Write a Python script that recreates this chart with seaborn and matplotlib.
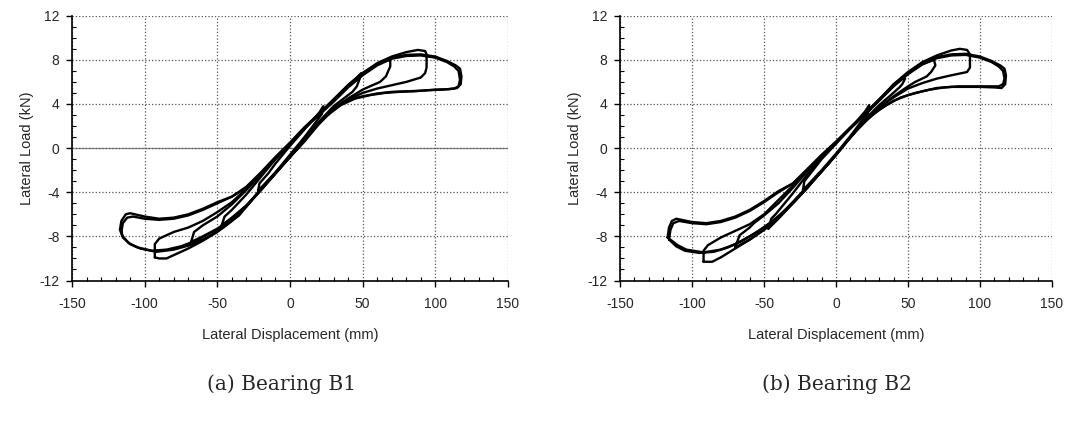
import numpy as np
import pandas as pd
import seaborn as sns
import matplotlib.pyplot as plt
from matplotlib.ticker import MultipleLocator

# ---- Bearing B1 loops (displacement mm, load kN) ----
b1_outer_x = [-117, -116, -113, -110, -100, -90, -80, -70, -60, -50, -40, -30, -20, -10, 0, 10, 20, 30, 40, 50,
              60, 70, 80, 90, 100, 108, 114, 117, 118, 117.5, 115, 110, 100, 90, 80, 70, 60, 50, 40, 30, 20, 10,
              0, -10, -20, -30, -35, -40, -46, -57, -69, -80, -92, -103, -110, -115, -117]
b1_outer_y = [-7.4, -6.6, -6.0, -5.9, -6.2, -6.4, -6.3, -6.0, -5.5, -4.9, -4.4, -3.5, -2.2, -0.8, 0.5, 1.9, 3.1, 4.3, 5.6, 6.7,
              7.6, 8.2, 8.45, 8.5, 8.3, 7.9, 7.5, 7.2, 6.5, 5.8, 5.45, 5.35, 5.3, 5.2, 5.15, 5.1, 4.95, 4.7, 4.35, 3.5, 2.2, 0.6,
              -0.8, -2.2, -3.7, -5.3, -6.1, -6.6, -7.2, -8.1, -8.8, -9.2, -9.4, -9.1, -8.7, -8.1, -7.4]

b1_outer2_x = [-116, -115, -112, -108, -100, -90, -80, -70, -60, -50, -40, -30, -20, -10, 0, 10, 20, 30, 40, 50,
               60, 70, 80, 90, 100, 108, 113, 116, 117, 116, 113, 105, 95, 85, 75, 65, 55, 45, 35, 25, 15, 5,
               -5, -15, -25, -35, -45, -55, -65, -75, -85, -95, -105, -111, -115, -116]
b1_outer2_y = [-7.6, -6.8, -6.3, -6.2, -6.4, -6.5, -6.4, -6.1, -5.6, -5.0, -4.4, -3.6, -2.3, -0.9, 0.4, 1.8, 3.0, 4.2, 5.5, 6.6,
               7.5, 8.1, 8.35, 8.4, 8.2, 7.8, 7.4, 7.0, 6.2, 5.6, 5.4, 5.3, 5.25, 5.15, 5.1, 5.0, 4.8, 4.5, 3.9, 2.9, 1.5, -0.1,
               -1.5, -3.0, -4.5, -6.0, -7.0, -7.7, -8.4, -8.9, -9.2, -9.3, -9.0, -8.6, -8.0, -7.6]

b1_a93_x = [-93, -93, -90, -80, -70, -60, -50, -40, -30, -20, -10, 0, 10, 20, 30, 40, 50, 60, 70, 80, 88, 93, 94, 94,
            93, 90, 80, 70, 60, 50, 40, 30, 20, 10, 0, -10, -20, -30, -40, -50, -60, -70, -80, -85, -90, -93]
b1_a93_y = [-9.9, -8.7, -8.2, -7.6, -7.2, -6.6, -5.8, -4.9, -3.7, -2.3, -0.9, 0.4, 1.8, 3.1, 4.4, 5.7, 6.8, 7.7, 8.3, 8.7, 8.9, 8.8, 8.5, 7.3,
            6.8, 6.4, 6.0, 5.7, 5.4, 5.0, 4.4, 3.6, 2.3, 0.7, -0.8, -2.3, -3.8, -5.3, -6.6, -7.6, -8.4, -9.1, -9.7, -10.0, -10.0, -9.9]

b1_a70_x = [-68, -66, -60, -50, -40, -30, -20, -10, 0, 10, 20, 30, 40, 50, 60, 67, 69, 69, 66, 62, 55, 50, 40, 30, 20,
            10, 0, -10, -20, -30, -40, -50, -60, -68]
b1_a70_y = [-8.5, -7.6, -7.0, -6.2, -5.1, -3.8, -2.4, -1.0, 0.4, 1.8, 3.1, 4.4, 5.7, 6.8, 7.6, 8.0, 7.9, 7.4, 6.5, 6.0, 5.6, 5.3, 4.5, 3.6, 2.3,
            0.7, -0.8, -2.3, -3.8, -5.2, -6.4, -7.3, -8.0, -8.5]

b1_a47_x = [-47, -45, -40, -30, -20, -10, 0, 10, 20, 30, 40, 46, 49, 48, 46, 43, 38, 30, 20, 10, 0, -10, -20, -30, -40, -47]
b1_a47_y = [-7.0, -6.2, -5.6, -4.2, -2.6, -1.0, 0.4, 1.8, 3.1, 4.4, 5.7, 6.4, 6.8, 6.3, 5.6, 5.1, 4.6, 3.8, 2.4, 0.8, -0.8, -2.3, -3.8, -5.2, -6.3, -7.0]

b1_a23_x = [-22, -21, -15, -10, 0, 10, 20, 23, 22, 18, 10, 0, -10, -20, -22]
b1_a23_y = [-3.9, -3.2, -2.3, -1.4, 0.2, 1.7, 3.2, 3.8, 3.1, 2.4, 1.0, -0.6, -2.2, -3.6, -3.9]

# ---- Bearing B2 loops ----
b2_outer_x = [-117, -116, -114, -111, -100, -90, -80, -70, -60, -50, -40, -30, -20, -10, 0, 10, 20, 30, 40, 50,
              60, 70, 80, 90, 100, 108, 114, 117, 118, 117.5, 115, 110, 100, 90, 80, 70, 60, 50, 40, 30, 20, 10,
              0, -10, -20, -30, -40, -50, -60, -70, -80, -92, -104, -110, -114, -117]
b2_outer_y = [-8.1, -7.2, -6.6, -6.4, -6.7, -6.8, -6.6, -6.2, -5.6, -4.8, -3.9, -3.2, -1.9, -0.6, 0.6, 1.9, 3.1, 4.4, 5.7, 6.8,
              7.7, 8.25, 8.5, 8.55, 8.3, 7.9, 7.5, 7.2, 6.6, 5.8, 5.45, 5.5, 5.55, 5.55, 5.55, 5.45, 5.15, 4.8, 4.3, 3.5, 2.4, 1.0,
              -0.6, -2.1, -3.5, -4.9, -6.2, -7.2, -8.0, -8.7, -9.2, -9.45, -9.2, -8.8, -8.4, -8.1]

b2_outer2_x = [-116, -115, -113, -109, -100, -90, -80, -70, -60, -50, -40, -30, -20, -10, 0, 10, 20, 30, 40, 50,
               60, 70, 80, 90, 100, 108, 113, 116, 117, 116, 113, 105, 95, 85, 75, 65, 55, 45, 35, 25, 15, 5,
               -5, -15, -25, -35, -45, -55, -65, -75, -85, -95, -105, -111, -115, -116]
b2_outer2_y = [-8.3, -7.4, -6.8, -6.6, -6.8, -6.9, -6.7, -6.3, -5.7, -4.9, -4.0, -3.2, -2.0, -0.7, 0.5, 1.8, 3.0, 4.3, 5.6, 6.7,
               7.6, 8.15, 8.4, 8.45, 8.2, 7.8, 7.4, 7.0, 6.3, 5.8, 5.6, 5.6, 5.6, 5.6, 5.5, 5.3, 5.0, 4.6, 3.9, 3.0, 1.7, 0.2,
               -1.4, -2.8, -4.2, -5.6, -6.7, -7.6, -8.4, -9.0, -9.4, -9.5, -9.3, -8.9, -8.4, -8.3]

b2_a93_x = [-92, -92, -89, -80, -70, -60, -50, -40, -30, -20, -10, 0, 10, 20, 30, 40, 50, 60, 70, 80, 86, 91, 93, 93,
            91, 80, 70, 60, 50, 40, 30, 20, 10, 0, -10, -20, -30, -40, -50, -60, -70, -80, -86, -92]
b2_a93_y = [-10.3, -9.3, -8.8, -8.1, -7.5, -6.9, -6.0, -4.7, -3.4, -2.0, -0.7, 0.5, 1.8, 3.1, 4.4, 5.8, 6.9, 7.8, 8.4, 8.85, 9.0, 8.9, 8.5, 7.3,
            6.9, 6.6, 6.3, 5.9, 5.4, 4.6, 3.7, 2.5, 1.0, -0.6, -2.1, -3.6, -5.0, -6.3, -7.4, -8.3, -9.1, -9.9, -10.3, -10.3]

b2_a70_x = [-70, -67, -60, -57, -50, -40, -30, -20, -10, 0, 10, 20, 30, 40, 50, 60, 68, 69, 66, 63, 55, 50, 40, 30,
            20, 10, 0, -10, -20, -30, -40, -50, -60, -70]
b2_a70_y = [-9.0, -7.9, -7.2, -6.8, -6.1, -5.0, -3.6, -2.1, -0.7, 0.5, 1.8, 3.1, 4.4, 5.7, 6.8, 7.6, 8.0, 7.5, 6.9, 6.5, 6.0, 5.6, 4.7, 3.7,
            2.5, 1.0, -0.6, -2.1, -3.6, -5.0, -6.3, -7.4, -8.3, -9.0]

b2_a47_x = [-47, -45, -42, -30, -20, -10, 0, 10, 20, 30, 40, 46, 48, 46, 44, 38, 30, 20, 10, 0, -10, -20, -30, -40, -47]
b2_a47_y = [-7.3, -6.4, -6.0, -4.1, -2.4, -0.8, 0.5, 1.8, 3.1, 4.4, 5.7, 6.3, 6.3, 5.8, 5.5, 4.8, 3.9, 2.6, 1.0, -0.6, -2.1, -3.6, -5.0, -6.4, -7.3]

b2_a23_x = [-23, -22, -10, 0, 10, 20, 23, 22, 18, 10, 0, -10, -20, -23]
b2_a23_y = [-3.8, -3.0, -1.0, 0.4, 1.8, 3.3, 3.9, 3.1, 2.5, 1.1, -0.5, -2.0, -3.4, -3.8]

panels = [
    ('(a) Bearing B1', [(b1_outer_x, b1_outer_y), (b1_outer2_x, b1_outer2_y), (b1_a93_x, b1_a93_y),
                        (b1_a70_x, b1_a70_y), (b1_a47_x, b1_a47_y), (b1_a23_x, b1_a23_y)]),
    ('(b) Bearing B2', [(b2_outer_x, b2_outer_y), (b2_outer2_x, b2_outer2_y), (b2_a93_x, b2_a93_y),
                        (b2_a70_x, b2_a70_y), (b2_a47_x, b2_a47_y), (b2_a23_x, b2_a23_y)]),
]

sns.set_style('white')
plt.rcParams['font.family'] = ['Liberation Sans', 'DejaVu Sans']
plt.rcParams['axes.unicode_minus'] = False

fig = plt.figure(figsize=(10.84, 4.24), dpi=100)
axes_rects = [[0.0664, 0.3384, 0.4022, 0.6245], [0.572, 0.3384, 0.3985, 0.6245]]
caption_x = [0.26, 0.772]

for k, ((caption, loops), rect, cx) in enumerate(zip(panels, axes_rects, caption_x)):
    ax = fig.add_axes(rect)
    frames = []
    for i, (xs, ys) in enumerate(loops):
        frames.append(pd.DataFrame({'disp': xs, 'load': ys, 'loop': i}))
    df = pd.concat(frames, ignore_index=True)
    sns.lineplot(data=df, x='disp', y='load', units='loop', estimator=None, sort=False,
                 color='black', lw=1.7, ax=ax)

    ax.set_xlim(-150, 150)
    ax.set_ylim(-12, 12)
    ax.xaxis.set_major_locator(MultipleLocator(50))
    ax.xaxis.set_minor_locator(MultipleLocator(10))
    ax.yaxis.set_major_locator(MultipleLocator(4))
    ax.yaxis.set_minor_locator(MultipleLocator(1))
    ax.grid(True, which='major', color='#555555', linestyle=':', linewidth=0.9)
    if k == 0:
        ax.axhline(0, color='#888888', lw=0.9, zorder=0.5)
    ax.set_axisbelow(True)
    for s in ['top', 'right']:
        ax.spines[s].set_visible(False)
    for s in ['left', 'bottom']:
        ax.spines[s].set_color('black')
        ax.spines[s].set_linewidth(1.2)
    ax.tick_params(which='major', direction='out', length=4, width=1, color='black',
                   labelsize=10, left=True, bottom=True)
    ax.tick_params(axis='x', which='major', pad=8)
    ax.tick_params(axis='y', which='major', pad=5)
    ax.tick_params(which='minor', direction='in', length=3, width=0.8, color='black',
                   left=True, bottom=True)
    ax.set_xlabel('Lateral Displacement (mm)', fontsize=10.5, labelpad=12)
    ax.set_ylabel('Lateral Load (kN)', fontsize=10.5, labelpad=4)
    fig.text(cx, 0.095, caption, fontsize=14.5, family='DejaVu Serif', va='center', ha='center')

fig.savefig('out.png', dpi=100)
